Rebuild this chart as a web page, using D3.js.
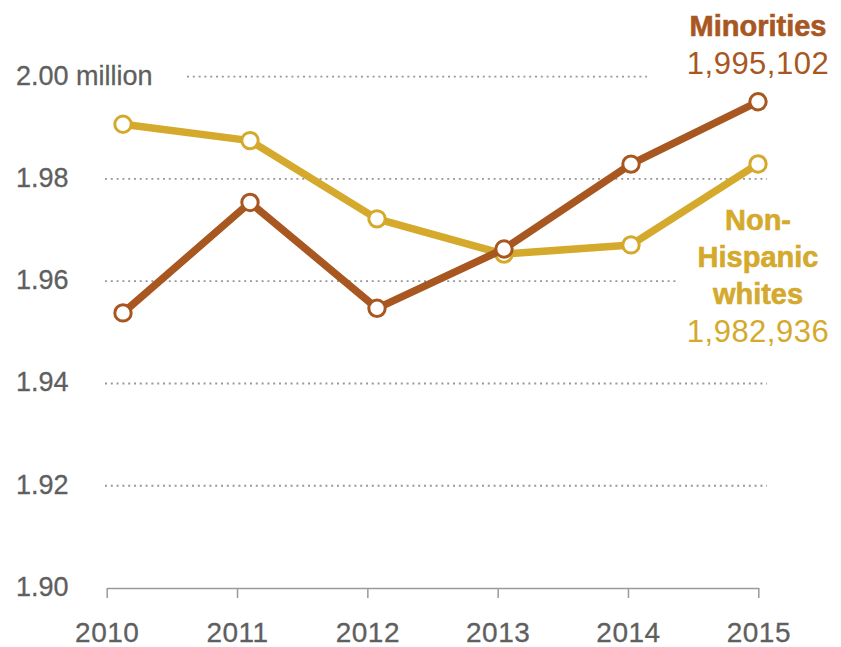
<!DOCTYPE html>
<html>
<head>
<meta charset="utf-8">
<script src="https://cdn.jsdelivr.net/npm/d3@7"></script>
<style>
  body { margin: 0; background: #fff; }
  svg { display: block; font-family: "Liberation Sans", Arial, sans-serif; }
</style>
</head>
<body>
<div id="chart"></div>
<script>
// values (millions)
var years = [2010, 2011, 2012, 2013, 2014, 2015];
var minorities = [1.9538, 1.9754, 1.9547, 1.9663, 1.9829, 1.995102];
var whites = [1.9907, 1.9875, 1.9722, 1.9653, 1.9671, 1.982936];
var yTicks = [1.90, 1.92, 1.94, 1.96, 1.98, 2.00];
var yTickLabels = ["1.90", "1.92", "1.94", "1.96", "1.98", "2.00 million"];

var svgWidth = 841;
var svgHeight = 647;

var brown = "#a7571f";
var gold = "#d4a92c";
var grey = "#5f5f5f";

var svg = d3.select("#chart")
  .append("svg")
  .attr("width", svgWidth)
  .attr("height", svgHeight);

var yScale = d3.scaleLinear()
  .domain([1.90, 2.00])
  .range([588, 76.7]);

// axis ticks and the plotted points sit on slightly different spans
var xAxisScale = d3.scalePoint()
  .domain(years)
  .range([106.7, 758.3]);

var xScale = d3.scalePoint()
  .domain(years)
  .range([123, 758]);

// dotted gridlines
function gridStart(v) { return v === 2.00 ? 187 : 105; }
function gridEnd(v) {
  if (v === 2.00) return 647;
  if (v === 1.96) return 678;
  return 767;
}

svg.append("g")
  .selectAll("line")
  .data(yTicks.filter(d => d > 1.90))
  .enter()
  .append("line")
  .attr("x1", d => gridStart(d))
  .attr("x2", d => gridEnd(d))
  .attr("y1", d => yScale(d))
  .attr("y2", d => yScale(d))
  .attr("stroke", "#999")
  .attr("stroke-width", 1.8)
  .attr("stroke-dasharray", "2,3.8");

// y labels
svg.append("g")
  .selectAll("text")
  .data(yTicks)
  .enter()
  .append("text")
  .attr("x", 16)
  .attr("y", d => yScale(d) + 8)
  .attr("font-size", "27px")
  .attr("fill", grey)
  .attr("stroke", grey)
  .attr("stroke-width", 0.3)
  .text((d, i) => yTickLabels[i]);

// x axis
var xAxis = d3.axisBottom(xAxisScale)
  .tickSizeInner(10)
  .tickSizeOuter(0)
  .tickPadding(24);

var xg = svg.append("g")
  .attr("transform", "translate(0, 588)")
  .call(xAxis);

xg.select(".domain").attr("stroke", "#9a9a9a").attr("stroke-width", 1.5);
xg.selectAll(".tick line").attr("stroke", "#9a9a9a").attr("stroke-width", 1.5);
xg.selectAll(".tick text")
  .attr("font-size", "28px")
  .attr("font-family", "Liberation Sans, Arial, sans-serif")
  .attr("fill", grey)
  .attr("stroke", grey)
  .attr("stroke-width", 0.3)
  .attr("letter-spacing", "0.5px");

// lines
var line = d3.line()
  .x((d, i) => xScale(years[i]))
  .y(d => yScale(d));

function drawSeries(values, color) {
  svg.append("path")
    .datum(values)
    .attr("d", line)
    .attr("fill", "none")
    .attr("stroke", color)
    .attr("stroke-width", 7.5)
    .attr("stroke-linejoin", "round");

  svg.append("g")
    .selectAll("circle")
    .data(values)
    .enter()
    .append("circle")
    .attr("cx", (d, i) => xScale(years[i]))
    .attr("cy", d => yScale(d))
    .attr("r", 8.2)
    .attr("fill", "#fff")
    .attr("stroke", color)
    .attr("stroke-width", 3);
}

drawSeries(whites, gold);
drawSeries(minorities, brown);

// direct labels
var labelX = xScale(2015);

svg.append("text")
  .attr("x", labelX)
  .attr("y", 36)
  .attr("text-anchor", "middle")
  .attr("font-size", "29px")
  .attr("font-weight", "bold")
  .attr("fill", brown)
  .attr("stroke", brown)
  .attr("stroke-width", 0.6)
  .text("Minorities");

svg.append("text")
  .attr("x", labelX)
  .attr("y", 74)
  .attr("text-anchor", "middle")
  .attr("font-size", "31px")
  .attr("letter-spacing", "0.5px")
  .attr("fill", brown)
  .text(d3.format(",")(Math.round(minorities[5] * 1e6)));

var whiteLines = ["Non-", "Hispanic", "whites"];
svg.append("g")
  .selectAll("text")
  .data(whiteLines)
  .enter()
  .append("text")
  .attr("x", labelX)
  .attr("y", (d, i) => 230 + i * 37)
  .attr("text-anchor", "middle")
  .attr("font-size", "29px")
  .attr("font-weight", "bold")
  .attr("fill", gold)
  .attr("stroke", gold)
  .attr("stroke-width", 0.6)
  .text(d => d);

svg.append("text")
  .attr("x", labelX)
  .attr("y", 342)
  .attr("text-anchor", "middle")
  .attr("font-size", "31px")
  .attr("letter-spacing", "0.5px")
  .attr("fill", gold)
  .text(d3.format(",")(Math.round(whites[5] * 1e6)));
</script>
</body>
</html>
